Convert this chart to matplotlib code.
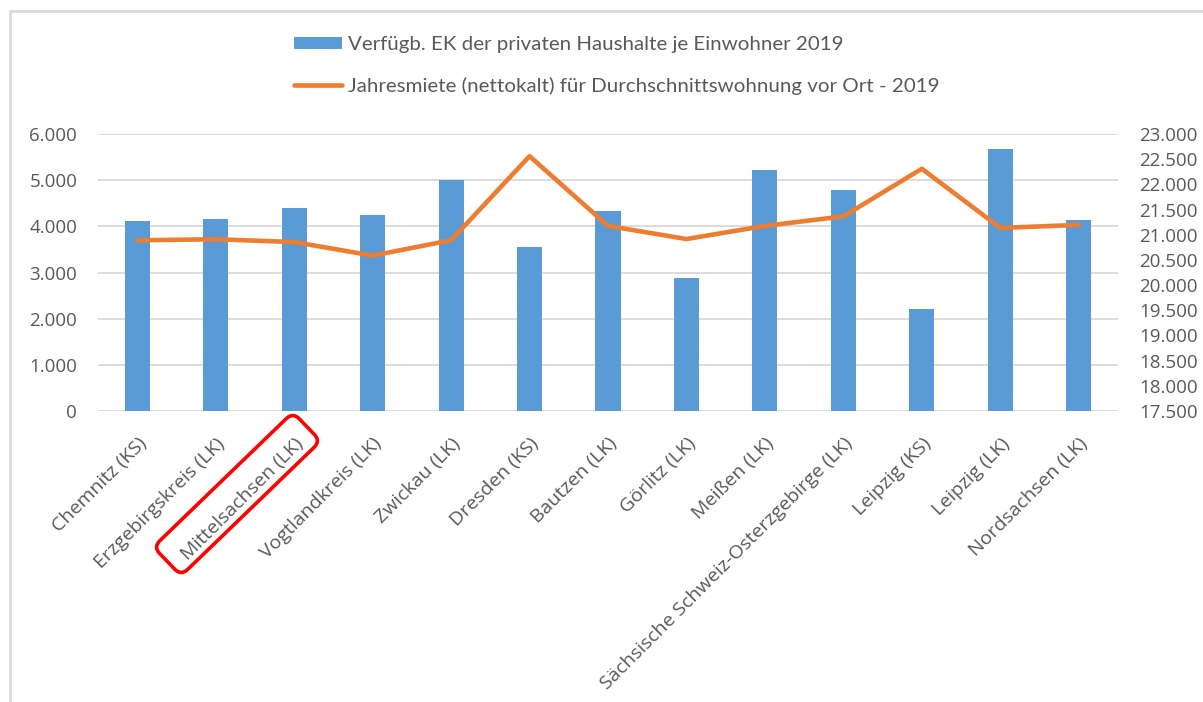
import numpy as np
import matplotlib
matplotlib.use("Agg")
import matplotlib.pyplot as plt
from matplotlib.patches import FancyBboxPatch, Rectangle
from matplotlib.ticker import FuncFormatter
from matplotlib.transforms import Affine2D

plt.rcParams['font.family'] = ['Open Sans', 'DejaVu Sans']

regions = ["Chemnitz (KS)", "Erzgebirgskreis (LK)", "Mittelsachsen (LK)", "Vogtlandkreis (LK)",
           "Zwickau (LK)", "Dresden (KS)", "Bautzen (LK)", "Görlitz (LK)", "Meißen (LK)",
           "Sächsische Schweiz-Osterzgebirge (LK)", "Leipzig (KS)", "Leipzig (LK)", "Nordsachsen (LK)"]
einkommen = [4110, 4165, 4400, 4240, 5000, 3545, 4325, 2885, 5230, 4790, 2210, 5675, 4140]
jahresmiete = [20890, 20910, 20855, 20585, 20890, 22560, 21175, 20915, 21175, 21365, 22310, 21135, 21195]

label_bar = "Verfügb. EK der privaten Haushalte je Einwohner 2019"
label_line = "Jahresmiete (nettokalt) für Durchschnittswohnung vor Ort - 2019"

BLUE = "#5B9BD5"
ORANGE = "#ED7D31"
GRID = "#D9D9D9"
TXT = "#595959"

W, H = 1203, 702

def de_fmt(v, pos):
    return "{:,.0f}".format(v).replace(",", ".")

fig = plt.figure(figsize=(W / 100, H / 100), dpi=100)
ax = fig.add_axes([98 / W, (H - 411) / H, (1118 - 98) / W, (411 - 134) / H])
ax2 = ax.twinx()

x = np.arange(len(regions))
bars = ax.bar(x, einkommen, width=0.32, color=BLUE, zorder=2, label=label_bar)
line, = ax2.plot(x, jahresmiete, color=ORANGE, linewidth=3.3, solid_joinstyle='round',
                 solid_capstyle='round', zorder=3, label=label_line)

ax.set_xlim(-0.5, len(regions) - 0.5)
ax.set_ylim(0, 6000)
ax.set_yticks(np.arange(0, 6001, 1000))
ax2.set_ylim(17500, 23000)
ax2.set_yticks(np.arange(17500, 23001, 500))
ax.yaxis.set_major_formatter(FuncFormatter(de_fmt))
ax2.yaxis.set_major_formatter(FuncFormatter(de_fmt))

ax.grid(axis='y', color=GRID, linewidth=1.3, zorder=0)
ax.set_axisbelow(True)
for a in (ax, ax2):
    for s in a.spines.values():
        s.set_visible(False)
    a.tick_params(length=0, labelsize=13.5, labelcolor=TXT)
ax.tick_params(axis='y', pad=15)
ax2.tick_params(axis='y', pad=15)

ax.set_xticks(x)
ax.set_xticklabels(regions, rotation=45, ha='right', rotation_mode='anchor')
ax.tick_params(axis='x', pad=17, labelsize=14)

fig.legend([bars, line], [label_bar, label_line], loc='upper left',
           bbox_to_anchor=(294 / W, (H - 36) / H), frameon=False,
           prop={'family': ['Lato', 'DejaVu Sans'], 'size': 14.75},
           labelcolor=TXT, labelspacing=1.17, handlelength=2.35, handleheight=0.55,
           handletextpad=0.3, borderpad=0, borderaxespad=0)

# outer chart frame
fig.patches.append(Rectangle((10, -10), 1250, H - 11 + 10, transform=None,
                             fill=False, edgecolor="#D9D9D9", linewidth=2))

# red highlight around Mittelsachsen
hl = FancyBboxPatch((-97, -20), 194, 40, boxstyle="round,pad=0,rounding_size=9",
                    fill=False, edgecolor="#FF0000", linewidth=2.6,
                    transform=Affine2D().rotate_deg(44).translate(237, H - 494))
fig.patches.append(hl)

fig.savefig("out.png", dpi=100)
